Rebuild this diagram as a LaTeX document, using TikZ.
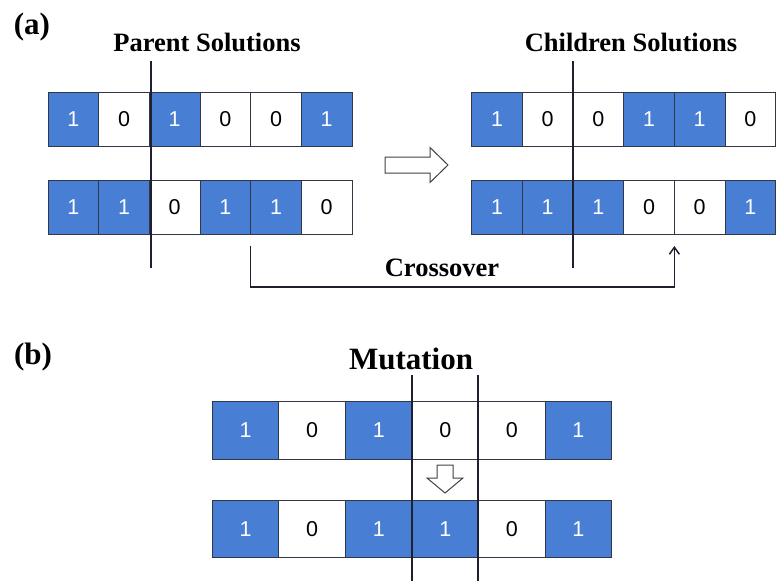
\documentclass[tikz,border=0pt]{standalone}
\usepackage{fontspec}
\setmainfont{Liberation Serif}
\newfontfamily\arialf{Liberation Sans}
\usetikzlibrary{arrows.meta}
\definecolor{cellblue}{RGB}{72,126,212}
\definecolor{linec}{RGB}{30,32,48}
\definecolor{cellborder}{RGB}{50,55,70}
\begin{document}
\begin{tikzpicture}[x=1pt,y=-1pt,
  cellbase/.style={draw=cellborder,line width=1pt,inner sep=0pt,outer sep=0pt,
    font=\arialf\fontsize{21.5}{21.5}\selectfont},
  cell1/.style={cellbase,fill=cellblue,text=white},
  cell0/.style={cellbase,fill=white,text=black},
  smallcell/.style={minimum width=50.67,minimum height=54},
  bigcell/.style={minimum width=66.57,minimum height=57.6},
  vline/.style={draw=linec,line width=2pt},
  title/.style={font=\bfseries\fontsize{26.5}{26.5}\selectfont,inner sep=0pt},
  panel/.style={font=\bfseries\fontsize{31}{31}\selectfont,inner sep=0pt},
  hollow/.style={draw=black!75,line width=1pt,fill=white,line join=miter}
]
\useasboundingbox (0,0) rectangle (782,581);

% panel labels
\node[panel] (la) at (32,27) {(a)};
\node[panel] (lb) at (33,357) {(b)};

% titles
\node[title] (tp) at (207,42) {Parent Solutions};
\node[title] (tc) at (631,42) {Children Solutions};
\node[title] (tx) at (442,268) {Crossover};
\node[panel] (tm) at (411,359) {Mutation};

% parent rows
\foreach \v [count=\i] in {1,0,1,0,0,1}
  \node[cell\v,smallcell] (pa\i) at ({48+(\i-0.5)*50.67},119) {\v};
\foreach \v [count=\i] in {1,1,0,1,1,0}
  \node[cell\v,smallcell] (pb\i) at ({48+(\i-0.5)*50.67},207) {\v};
% children rows
\foreach \v [count=\i] in {1,0,0,1,1,0}
  \node[cell\v,smallcell] (ca\i) at ({471.7+(\i-0.5)*50.67},119) {\v};
\foreach \v [count=\i] in {1,1,1,0,0,1}
  \node[cell\v,smallcell] (cb\i) at ({471.7+(\i-0.5)*50.67},207) {\v};
% mutation rows
\foreach \v [count=\i] in {1,0,1,0,0,1}
  \node[cell\v,bigcell] (ma\i) at ({212.3+(\i-0.5)*66.57},430.5) {\v};
\foreach \v [count=\i] in {1,0,1,1,0,1}
  \node[cell\v,bigcell] (mb\i) at ({212.3+(\i-0.5)*66.57},528.85) {\v};

% cut lines
\draw[vline] (150.7,61) -- (150.7,268);
\draw[vline] (573.3,61) -- (573.3,268);
\draw[vline] (412.3,375) -- (412.3,581);
\draw[vline] (478.3,375) -- (478.3,581);

% crossover connector
\coordinate (xs) at ([yshift=-12pt]pb4.south east);
\coordinate (xe) at ([yshift=-12pt]cb4.south east);
\draw[draw=linec,line width=1.5pt,-{Straight Barb[length=7pt,width=10pt,line width=1.5pt]}]
  (xs) -- ++(0,41) -| (xe);

% hollow right arrow
\draw[hollow] (385,157) -- (430,157) -- (430,147.5) -- (448,165) -- (430,182.5)
  -- (430,173) -- (385,173) -- cycle;
% hollow down arrow
\draw[hollow] (437,465) -- (453,465) -- (453,478) -- (463,478) -- (445,493)
  -- (427,478) -- (437,478) -- cycle;
\end{tikzpicture}
\end{document}
